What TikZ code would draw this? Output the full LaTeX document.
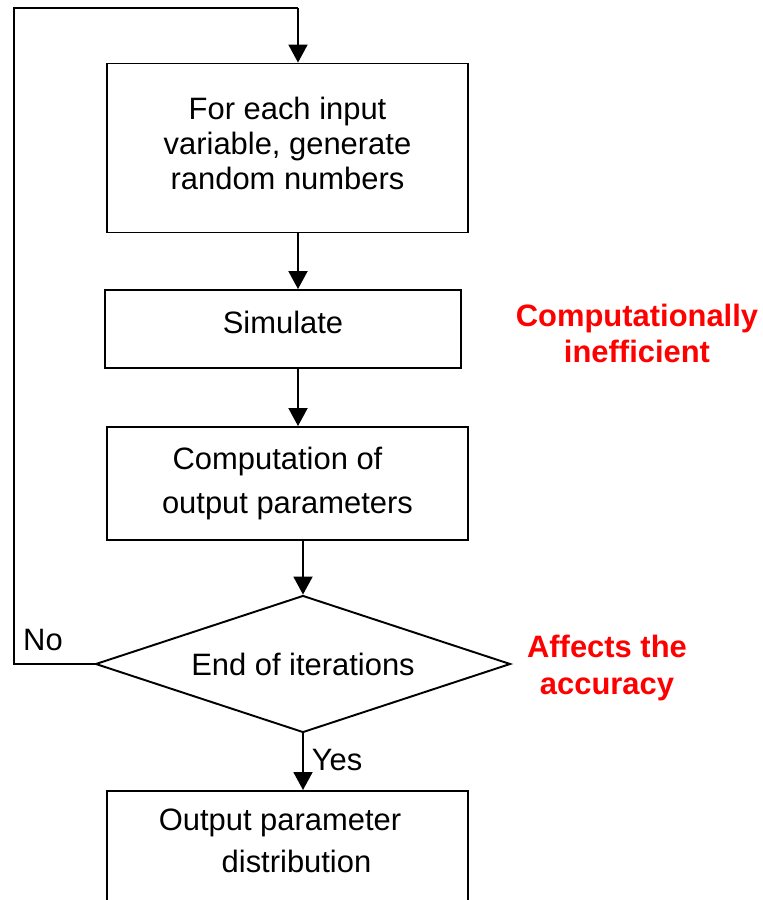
\documentclass[tikz,border=0pt]{standalone}
\usepackage{fontspec}
\setmainfont{Liberation Sans}
\usepackage{tikz}
\usetikzlibrary{shapes,shapes.geometric,arrows.meta,positioning,calc}

\begin{document}
\begin{tikzpicture}[
    x=0.02cm, y=-0.02cm,
    box/.style={rectangle, draw, line width=1.1pt, minimum width=7.22cm,
                align=center, inner sep=4pt, font=\fontsize{17.6}{19.9}\selectfont},
    decision/.style={diamond, draw, line width=1.1pt, minimum width=8.3cm,
                     minimum height=2.74cm, inner sep=0pt, aspect=3,
                     font=\fontsize{17.6}{19.9}\selectfont},
    arr/.style={-{Triangle[length=0.36cm,width=0.38cm]}, line width=1.1pt},
    line/.style={line width=1.1pt},
    lbl/.style={font=\fontsize{17.6}{19.9}\selectfont},
    note/.style={align=center, text=red, font=\fontsize{17.6}{20.5}\selectfont\bfseries}
  ]
  \useasboundingbox (0,0) rectangle (763,900);

  % Main flow
  \node[box, minimum height=3.38cm] (gen) at (287.5,148)
    {For each input\\variable, generate\\random numbers\rule[-0.17cm]{0pt}{0pt}};
  \node[box, minimum width=7.12cm, minimum height=1.56cm] (sim) at (283,329)
    {Simulate\rule[-0.28cm]{0pt}{0pt}};
  \node[box, minimum height=2.26cm, font=\fontsize{17.6}{24.5}\selectfont] (comp) at (287.5,483.5)
    {Computation of\hspace*{0.4cm}\\output parameters};
  \node[decision] (iter) at (303,664) {End of iterations};
  \node[box, anchor=north, inner ysep=0.36cm, font=\fontsize{17.6}{23.8}\selectfont] (dist) at (287.5,790)
    {Output parameter\hspace*{0.3cm}\\\hspace*{0.36cm}distribution\rule[-2cm]{0pt}{0pt}};

  % Loop back
  \coordinate (top) at (298,8);
  \coordinate (loop) at (14,8);

  \draw[arr] (top) -- (top |- gen.north);
  \draw[arr] (gen.south -| top) -- (sim.north -| top);
  \draw[arr] (sim.south -| top) -- (comp.north -| top);
  \draw[arr] (comp.south -| iter.north) -- (iter.north);
  \draw[arr] (iter.south) -- (iter.south |- dist.north);
  \draw[line] (iter.west) -| (loop) -- (top);

  % Branch labels
  \node[lbl] (no) at (43,640) {No};
  \node[lbl] (yes) at (337,760) {Yes};

  % Remarks
  \node[note] (ineff) at (637,333) {Computationally\\inefficient};
  \node[note] (acc) at (607,668) {Affects the\\accuracy};

\end{tikzpicture}
\end{document}
